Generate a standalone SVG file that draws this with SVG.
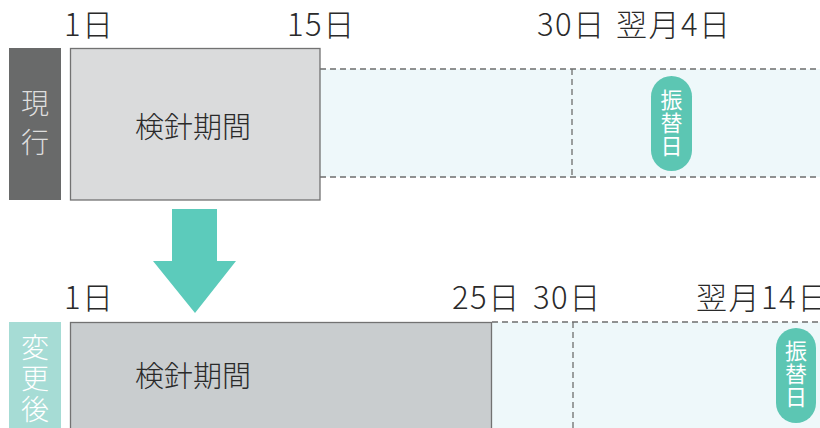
<svg xmlns="http://www.w3.org/2000/svg" width="820" height="428" viewBox="0 0 820 428">
<style>
.lbl{font-family:"Noto Sans CJK JP","Noto Sans",sans-serif;font-size:31px;fill:#2a2a2a;font-weight:300;letter-spacing:1.5px}
.big{font-family:"Noto Sans CJK JP","Noto Sans",sans-serif;font-size:29px;fill:#2a2a2a;text-anchor:middle;font-weight:300}
.vt{font-family:"Noto Sans CJK JP",sans-serif;font-size:28px;font-weight:300;writing-mode:vertical-rl;text-orientation:upright}
.pt{font-family:"Noto Sans CJK JP",sans-serif;font-size:22px;fill:#ffffff;writing-mode:vertical-rl;text-orientation:upright;letter-spacing:1px}
.dash{stroke:#6e6e6e;stroke-width:1.3;stroke-dasharray:6 4;fill:none}
.pale{fill:#eef8fa}
.pill{fill:#5cc6b3}
</style>
<rect width="820" height="428" fill="#ffffff"/>

<g id="current-row">
  <rect class="pale" x="320" y="69" width="500" height="108"/>
  <line class="dash" x1="320" y1="69" x2="820" y2="69"/>
  <line class="dash" x1="320" y1="177" x2="820" y2="177"/>
  <line class="dash" x1="572" y1="69" x2="572" y2="177"/>
</g>
<g id="current-label">
  <rect x="9" y="48" width="52" height="152" fill="#696a6a"/>
  <text class="vt" x="35" y="89" fill="#dedede" style="letter-spacing:11px">現行</text>
</g>
<g id="current-period">
  <rect x="70.5" y="48.5" width="249.5" height="151.5" fill="#dadbdc" stroke="#727272" stroke-width="1.3"/>
  <text class="big" x="193" y="138">検針期間</text>
</g>
<g id="current-pill">
  <rect class="pill" x="651" y="76" width="41" height="95" rx="20.5"/>
  <text class="pt" x="671.5" y="89">振替日</text>
</g>
<g id="current-dates">
  <text class="lbl" x="64" y="36">1日</text>
  <text class="lbl" x="287" y="36">15日</text>
  <text class="lbl" x="537" y="36">30日<tspan x="616">翌月4日</tspan></text>
</g>

<g id="connectors">
  <polygon points="172,209 217,209 217,261 236,261 195,313 153,261 172,261" fill="#5ccbbb"/>
</g>

<g id="new-row">
  <rect class="pale" x="492" y="322" width="328" height="106"/>
  <line class="dash" x1="492" y1="322" x2="820" y2="322"/>
  <line class="dash" x1="573" y1="322" x2="573" y2="428"/>
</g>
<g id="new-label">
  <rect x="9" y="322" width="52" height="106" fill="#a6dcd5"/>
  <text class="vt" x="35" y="333" fill="#ffffff" style="letter-spacing:3px">変更後</text>
</g>
<g id="new-period">
  <rect x="70.5" y="322.5" width="421" height="110" fill="#c9cdcf" stroke="#727272" stroke-width="1.3"/>
  <text class="big" x="193" y="387">検針期間</text>
</g>
<g id="new-pill">
  <rect class="pill" x="776" y="328" width="40" height="95" rx="20"/>
  <text class="pt" x="796" y="340">振替日</text>
</g>
<g id="new-dates">
  <text class="lbl" x="64" y="309">1日</text>
  <text class="lbl" x="452" y="309">25日<tspan x="533">30日</tspan></text>
  <text class="lbl" x="696" y="309">翌月14日</text>
</g>
</svg>
